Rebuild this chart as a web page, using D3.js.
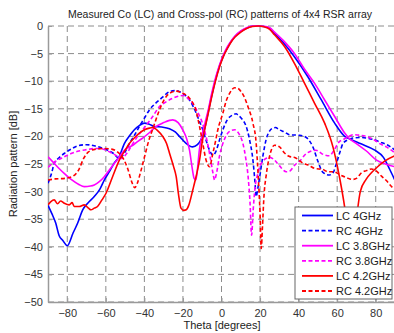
<!DOCTYPE html>
<html>
<head>
<meta charset="utf-8">
<script src="https://cdn.jsdelivr.net/npm/d3@7"></script>
<style>
  body { margin: 0; background: #fff; }
  svg { display: block; font-family: "Liberation Sans", Arial, sans-serif; }
</style>
</head>
<body>
<div id="container"></div>
<script>
/* DATA : [theta (deg), level (dB)] */
const xTicks = [-80, -60, -40, -20, 0, 20, 40, 60, 80];
const yTicks = [0, -5, -10, -15, -20, -25, -30, -35, -40, -45, -50];

const lc4GHz = [
  [-90,-32.5],[-88,-34],[-86,-35.7],[-84.2,-38],[-82.4,-38.8],[-80,-39.8],[-77,-37.5],[-74.6,-35.7],
  [-72,-33.3],[-69.4,-32.1],[-66,-30.9],[-63,-29.5],[-60.8,-27.9],[-58,-26.3],[-55.6,-24.8],[-53,-23.6],
  [-50.4,-21.3],[-47.5,-19.8],[-45.2,-18.8],[-42.5,-18],[-40,-17.6],[-37.5,-17.8],[-34.8,-18.2],[-31,-18.3],
  [-27,-18.6],[-24,-19.2],[-21.8,-20],[-18.5,-21.2],[-15,-21.9],[-12.5,-21.5],[-10.5,-20.5],[-9,-19],
  [-7,-15.8],[-5,-12.5],[-3,-9.6],[-1,-7.2],[1,-5.4],[3,-4],[5,-2.8],[7,-1.9],[10,-1],[13,-0.4],
  [16,-0.05],[19,0],[22,-0.1],[25,-0.4],[27.5,-1.3],[32,-3],[37.9,-5.6],[44.8,-9.2],[51.8,-13.4],
  [58.7,-17.6],[63.9,-20],[67.4,-20.6],[72,-21.3],[79.5,-22.5],[84,-23.8],[87.3,-26],[90,-28]
];
const rc4GHz = [
  [-90,-28.5],[-88,-26.5],[-86.8,-24.9],[-84,-23.8],[-81.6,-23.1],[-78,-22.3],[-74.6,-21.7],[-70,-21.5],
  [-66,-21.7],[-62,-22.1],[-59,-22.5],[-56,-23.1],[-53,-24],[-50,-22.8],[-47.8,-21.3],[-45,-19.7],
  [-42.6,-18.2],[-40,-16.7],[-37.4,-15.2],[-34.8,-14.2],[-32.2,-13.4],[-29,-12.4],[-27,-11.9],[-24,-11.7],
  [-21.8,-11.9],[-19,-12.5],[-16.6,-13.4],[-13.1,-15.8],[-11.4,-17.3],[-9.7,-18.8],[-8,-20.7],[-6.2,-22.5],
  [-4.5,-23.4],[-3,-22.8],[-1,-20.6],[0.7,-18.8],[3,-17],[5.9,-16.1],[7.6,-15.9],[8.5,-16.1],[10.5,-16.8],
  [12.8,-18.2],[14.5,-20.5],[16.3,-24.3],[17.3,-28],[18,-30.9],[18.8,-29.5],[19.7,-27.6],[21.5,-23.5],
  [23.2,-20.5],[25,-19],[26.6,-18.5],[28,-18.4],[30,-18.8],[32.7,-19.2],[35.3,-19.7],[40.5,-19.8],
  [44,-20.2],[46,-21],[47.4,-21.9],[50,-24.5],[52.6,-26.5],[56,-27],[58,-26.5],[59.6,-24.9],[61.5,-22.8],
  [63,-21.3],[65.7,-20.6],[68.2,-20.3],[72,-20.2],[75.2,-20.3],[79,-20.6],[82.1,-21],[87.3,-21.8],[90,-22.5]
];
const lc38GHz = [
  [-90,-23.7],[-87,-24.8],[-84,-25.9],[-81.6,-26.7],[-78,-27.8],[-74,-28.7],[-71.2,-29.1],[-68,-29],
  [-66,-28.8],[-63.4,-28.2],[-60.8,-27.3],[-58.2,-26.1],[-55.6,-24.9],[-53,-23.7],[-50.4,-22.5],[-46,-21.6],
  [-43,-20.8],[-40.9,-20.3],[-37,-19.2],[-33.9,-18.2],[-30,-17.5],[-27,-17.1],[-25.3,-17],[-22.5,-17.5],
  [-20.1,-18.8],[-18,-20.5],[-16.6,-22.5],[-15.3,-25.5],[-14.2,-27.6],[-13.3,-27.9],[-12.5,-26],
  [-11.5,-22.5],[-10,-19.6],[-8.5,-17.5],[-7,-15.4],[-5,-12.1],[-3,-9.3],[-1,-7],[1,-5.2],[3,-3.8],
  [5,-2.7],[7,-1.8],[10,-0.9],[13,-0.3],[16,0],[19,0],[22,-0.05],[25,-0.3],[27.5,-1.1],[32,-2.6],
  [37.9,-5],[43,-7.8],[48.3,-10.4],[53.5,-13.4],[58.7,-16.4],[63.9,-19.4],[66,-20.3],[70,-21.3],
  [75,-22.6],[80.4,-24.3],[85,-25],[90,-25.5]
];
const rc38GHz = [
  [-90,-25.6],[-86,-24.5],[-81.6,-23.7],[-78,-23.1],[-74.6,-22.7],[-70,-22.4],[-66,-22.2],[-63,-22.2],
  [-60,-22.5],[-57,-23],[-54,-23.6],[-52,-24],[-49,-23],[-46,-21.3],[-43.5,-20],[-40.9,-18.8],[-38,-17.5],
  [-35.7,-16.4],[-32.2,-14.6],[-29,-13.8],[-25.3,-13.1],[-22,-12.7],[-20,-12.6],[-17.5,-13.1],[-14.9,-14],
  [-12.5,-15.5],[-10.5,-17],[-8,-20],[-6,-23.5],[-4.5,-26.5],[-3.6,-27.9],[-2.5,-26.5],[-1,-23.5],
  [0.7,-21.3],[2.5,-19.8],[4.2,-19.1],[6.8,-18.8],[9,-19.5],[11.1,-21.3],[12.5,-23.8],[13.8,-27.3],
  [14.8,-32],[15.6,-37.9],[16.5,-33],[17.5,-29],[18.9,-26.7],[20,-25.3],[21.5,-24.5],[23,-24],[25,-23.8],
  [27.5,-24.3],[30,-25.3],[33.6,-26.4],[35.3,-26.3],[38,-25.2],[40.5,-24.5],[44,-23.1],[49,-22.5],
  [53,-23.3],[56,-23.5],[58.5,-22.4],[61,-21],[63,-20.6],[65.5,-20.1],[68.2,-19.7],[72,-19.8],[75.2,-20],
  [79,-20.6],[82.1,-21.3],[86,-22],[90,-23]
];
const lc42GHz = [
  [-90,-32.4],[-88.5,-31.8],[-86.8,-31.5],[-85,-32.2],[-83.5,-31.7],[-81.6,-32.1],[-79,-32.4],[-77.5,-32],
  [-76.4,-32.7],[-73.8,-32.7],[-71.2,-32.4],[-69,-33],[-67.7,-33.3],[-66,-33],[-64.3,-32.7],[-62,-31.5],
  [-59.9,-30.3],[-56.5,-27.3],[-53,-24.3],[-50,-22.5],[-47.8,-21.3],[-45,-20.2],[-42.6,-19.4],[-40,-18.8],
  [-37.4,-18.5],[-35.8,-18.4],[-33,-19],[-30.5,-20],[-28.5,-21.3],[-27,-23],[-25,-25.3],[-23.5,-27.3],
  [-22.3,-30.5],[-21,-33],[-19.5,-33.4],[-18.3,-33.3],[-17,-32.5],[-14.9,-29.7],[-13,-27],[-11.4,-24.3],
  [-10,-21],[-9,-19.2],[-7,-16],[-5,-12.7],[-3,-9.8],[-1,-7.4],[1,-5.5],[3,-4.1],[5,-2.9],[7,-2],
  [10,-1.1],[13,-0.45],[16,-0.1],[19,0],[22,-0.15],[25,-0.6],[27.5,-1.6],[32.7,-3.7],[37.9,-6.8],
  [43.1,-10.4],[48.3,-14],[53.5,-17.6],[57.8,-21.9],[61,-27],[64.8,-35.1],[67.5,-44],[70,-35],[72,-30],
  [75,-27.8],[78,-26.5],[81,-25.5],[85,-24.4],[90,-23.5]
];
const rc42GHz = [
  [-90,-27.9],[-86,-27.7],[-81,-27.6],[-77,-27.2],[-74,-26],[-71.5,-24],[-69,-22.8],[-65,-22.3],[-61,-22.2],
  [-57,-22.3],[-54,-22.8],[-51,-24],[-48.5,-26],[-46.5,-28.3],[-45,-29.3],[-43.8,-28.6],[-42,-26.5],
  [-40,-23.8],[-37.5,-20.5],[-35.5,-18.5],[-32.5,-15.5],[-30,-13.5],[-27,-12.2],[-23.5,-11.8],[-20.5,-12.1],
  [-16.6,-13.1],[-13.1,-15.5],[-11.4,-18.2],[-9.7,-21.3],[-8,-24.3],[-6.2,-25.5],[-4.5,-23.1],[-3,-20.7],
  [-1.9,-18.8],[0.7,-15.8],[2.5,-13.5],[4.2,-12.2],[6.8,-11.2],[8.5,-11.3],[10.2,-11.9],[12,-13],
  [13.7,-14.6],[16.3,-17.6],[18,-21.3],[19,-27],[20,-34],[20.6,-40.3],[21.3,-36],[22,-31],[23.2,-27],
  [25,-23.5],[27.5,-21.6],[30.1,-21.9],[32.7,-23],[35,-23.6],[38.5,-23.9],[42,-24.8],[45,-25.2],
  [48.3,-25.8],[52.6,-26],[55.2,-26.4],[58,-26.4],[62.2,-27.1],[65,-27.5],[67.8,-27.8],[70,-27.6],
  [72.6,-26.6],[75.2,-26.2],[77.8,-25.9],[80,-26.2],[83,-27.2],[85.5,-28],[88.5,-29.2],[90,-29.6]
];

const seriesNames = ["LC 4GHz", "RC 4GHz", "LC 3.8GHz", "RC 3.8GHz", "LC 4.2GHz", "RC 4.2GHz"];
const seriesData = [lc4GHz, rc4GHz, lc38GHz, rc38GHz, lc42GHz, rc42GHz];
const seriesColors = ["#0000ff", "#0000ff", "#ff00ff", "#ff00ff", "#ff0000", "#ff0000"];
const seriesDashed = [false, true, false, true, false, true];

/* CONSTANTS */
const W = 394, H = 333;
const margin = {top: 26, right: 0, bottom: 31, left: 48};

const svg = d3.select("#container")
  .append("svg")
  .attr("width", W)
  .attr("height", H);

/* SCALES */
const xScale = d3.scaleLinear().domain([-90, 90]).range([margin.left, 395]);
const yScale = d3.scaleLinear().domain([-50, 0]).range([H - margin.bottom, margin.top]);

// grid
svg.append("g")
  .selectAll("line")
  .data(xTicks)
  .join("line")
  .attr("x1", d => xScale(d)).attr("x2", d => xScale(d))
  .attr("y1", yScale(0)).attr("y2", yScale(-50))
  .attr("stroke", "#8c8c8c")
  .attr("stroke-width", 1)
  .attr("stroke-dasharray", "6,4");

svg.append("g")
  .selectAll("line")
  .data(yTicks)
  .join("line")
  .attr("x1", xScale(-90)).attr("x2", xScale(90))
  .attr("y1", d => yScale(d)).attr("y2", d => yScale(d))
  .attr("stroke", "#8c8c8c")
  .attr("stroke-width", 1)
  .attr("stroke-dasharray", "6,4");

// axes
const xAxis = svg.append("g")
  .attr("transform", "translate(0," + yScale(-50) + ")")
  .call(d3.axisBottom(xScale).tickValues(xTicks).tickSize(-4).tickPadding(7).tickSizeOuter(0));
const yAxis = svg.append("g")
  .attr("transform", "translate(" + xScale(-90) + ",0)")
  .call(d3.axisLeft(yScale).tickValues(yTicks).tickSize(-4).tickPadding(5).tickSizeOuter(0));

[xAxis, yAxis].forEach(a => {
  a.select(".domain").attr("stroke", "#9a9a9a").attr("stroke-width", 1.5);
  a.selectAll(".tick line").attr("stroke", "#9a9a9a");
  a.selectAll(".tick text")
    .attr("fill", "#333")
    .style("font-size", "11px")
    .style("font-family", "Liberation Sans, Arial, sans-serif");
});

/* LINES */
svg.append("clipPath").attr("id", "plot-clip")
  .append("rect")
  .attr("x", xScale(-90)).attr("y", yScale(0) - 2)
  .attr("width", xScale(90) - xScale(-90)).attr("height", yScale(-50) - yScale(0) + 2);

const line = d3.line()
  .x(d => xScale(d[0]))
  .y(d => yScale(d[1]))
  .curve(d3.curveMonotoneX);

const lines = svg.append("g").attr("clip-path", "url(#plot-clip)");
seriesData.forEach((s, i) => {
  lines.append("path")
    .datum(s)
    .attr("d", line)
    .attr("fill", "none")
    .attr("stroke", seriesColors[i])
    .attr("stroke-width", 1.6)
    .attr("stroke-dasharray", seriesDashed[i] ? "4,2.5" : null);
});

/* LEGEND */
const legend = svg.append("g").attr("transform", "translate(295,207)");
legend.append("rect")
  .attr("width", 97).attr("height", 92)
  .attr("fill", "#fff")
  .attr("stroke", "#666")
  .attr("stroke-width", 1);

seriesNames.forEach((name, i) => {
  const ly = 8.5 + i * 15.1;
  legend.append("line")
    .attr("x1", 7).attr("x2", 38)
    .attr("y1", ly).attr("y2", ly)
    .attr("stroke", seriesColors[i])
    .attr("stroke-width", 1.8)
    .attr("stroke-dasharray", seriesDashed[i] ? "4,2.5" : null);
  legend.append("text")
    .attr("x", 41).attr("y", ly + 4)
    .style("font-size", "11px")
    .attr("fill", "#222")
    .text(name);
});

/* TITLES */
svg.append("text")
  .attr("x", 220).attr("y", 18)
  .attr("text-anchor", "middle")
  .style("font-size", "10.5px")
  .attr("fill", "#222")
  .text("Measured Co (LC) and Cross-pol (RC) patterns of 4x4 RSR array");

svg.append("text")
  .attr("x", 222).attr("y", 329)
  .attr("text-anchor", "middle")
  .style("font-size", "11px")
  .attr("fill", "#222")
  .text("Theta [degrees]");

svg.append("text")
  .attr("transform", "translate(17," + (yScale(-25)) + ") rotate(-90)")
  .attr("text-anchor", "middle")
  .style("font-size", "11px")
  .attr("fill", "#222")
  .text("Radiation pattern [dB]");
</script>
</body>
</html>
